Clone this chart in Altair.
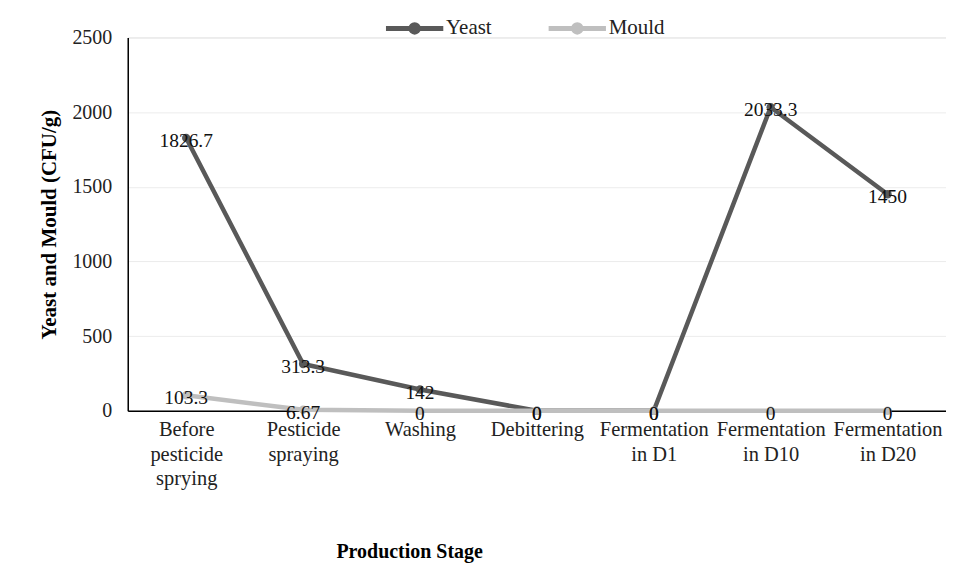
import altair as alt
import pandas as pd

stages = [
    "Before|pesticide|sprying",
    "Pesticide|spraying",
    "Washing",
    "Debittering",
    "Fermentation|in D1",
    "Fermentation|in D10",
    "Fermentation|in D20",
]
yeast = [1826.7, 313.3, 142, 0, 0, 2033.3, 1450]
mould = [103.3, 6.67, 0, 0, 0, 0, 0]
yeast_labels = ["1826.7", "313.3", "142", "0", "0", "2033.3", "1450"]
mould_labels = ["103.3", "6.67", "0", "0", "0", "0", "0"]
series = ["Yeast", "Mould"]
colors = ["#595959", "#BFBFBF"]

rows = []
for s, vals, labs in [("Yeast", yeast, yeast_labels), ("Mould", mould, mould_labels)]:
    for st, v, lb in zip(stages, vals, labs):
        rows.append({"stage": st, "series": s, "value": v, "label": lb})
df = pd.DataFrame(rows)

FONT = "Liberation Serif"

x = alt.X(
    "stage:N",
    sort=stages,
    scale=alt.Scale(paddingInner=0, paddingOuter=0),
    axis=alt.Axis(
        title="Production Stage",
        titleFont=FONT,
        titleFontSize=20,
        titleFontWeight="bold",
        titleColor="black",
        titleX=282,
        titleY=131,
        titleAnchor="middle",
        labelExpr="split(datum.label, '|')",
        labelFont=FONT,
        labelFontSize=20.5,
        labelColor="#222222",
        labelAngle=0,
        labelPadding=9,
        labelLineHeight=24.5,
        labelBaseline="top",
        labelOverlap=False,
        ticks=False,
        domainColor="black",
        domainWidth=1.5,
        grid=False,
    ),
)
y = alt.Y(
    "value:Q",
    scale=alt.Scale(domain=[0, 2500], nice=False),
    axis=alt.Axis(
        title="Yeast and Mould (CFU/g)",
        titleFont=FONT,
        titleFontSize=21,
        titleFontWeight="bold",
        titleColor="black",
        titlePadding=12,
        values=[0, 500, 1000, 1500, 2000, 2500],
        format="d",
        labelFont=FONT,
        labelFontSize=20,
        labelColor="#222222",
        labelPadding=16,
        ticks=False,
        domainColor="black",
        domainWidth=1.5,
        gridColor="#ececec",
        gridWidth=1,
    ),
)
legend_symbol = (
    "M-1,0L1,0"
    "M0.13,0A0.13,0.13 0 1,1 -0.13,0A0.13,0.13 0 1,1 0.13,0Z"
)
color = alt.Color(
    "series:N",
    scale=alt.Scale(domain=series, range=colors),
    legend=alt.Legend(
        title=None,
        orient="none",
        legendX=256,
        legendY=-41,
        direction="horizontal",
        symbolType=legend_symbol,
        symbolStrokeWidth=5,
        symbolSize=3300,
        labelFont=FONT,
        labelFontSize=21,
        labelColor="#222222",
        columnPadding=46,
        labelOffset=0,
    ),
)

base = alt.Chart(df).encode(x=x, y=y, color=color)

layers = []
for s in series:
    sub = base.transform_filter(alt.datum.series == s)
    layers.append(sub.mark_line(strokeWidth=4.5))
    layers.append(sub.mark_point(filled=True, size=70, opacity=1))
for s in series:
    sub = alt.Chart(df).transform_filter(alt.datum.series == s).encode(
        x=alt.X("stage:N", sort=stages), y=alt.Y("value:Q"), text="label:N"
    )
    layers.append(
        sub.mark_text(font=FONT, fontSize=19.5, color="#111111", baseline="middle", dy=3)
    )

chart = (
    alt.layer(*layers)
    .properties(
        width=820,
        height=374,
        autosize="none",
        padding={"left": 120, "top": 29, "right": 0, "bottom": 152},
    )
    .configure_view(stroke=None)
    .configure(background="white")
)

chart.save("out.html", embed_options={"renderer": "svg", "actions": False})
